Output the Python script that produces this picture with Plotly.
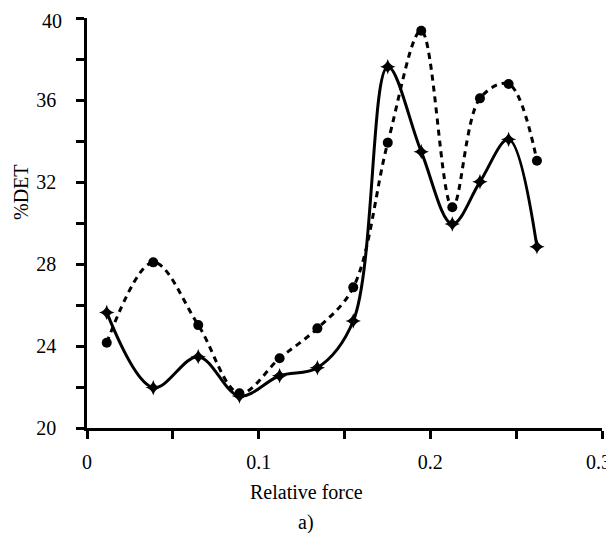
import plotly.graph_objects as go

relative_force = [0.0115, 0.0386, 0.0648, 0.0888, 0.1122, 0.1342, 0.1551, 0.1752, 0.1947, 0.2128, 0.2289, 0.2456, 0.2621]
det_solid = [25.64, 21.97, 23.48, 21.56, 22.55, 22.94, 25.22, 37.62, 33.48, 29.95, 32.01, 34.08, 28.84]
det_dotted = [24.16, 28.08, 25.02, 21.69, 23.40, 24.86, 26.86, 33.92, 39.38, 30.77, 36.08, 36.78, 33.04]

y_ticks = [20, 22, 24, 26, 28, 30, 32, 34, 36, 38, 40]
y_labels = ["20", "", "24", "", "28", "", "32", "", "36", "", ""]
x_ticks = [0, 0.05, 0.1, 0.15, 0.2, 0.25, 0.3]
x_labels = ["0", "", "0.1", "", "0.2", "", ""]
x_title = "Relative force"
y_title = "%DET"
panel_label = "a)"
last_x_label = "0.3"
top_y_label = "40"

font_family = "Liberation Serif"

# page has an 8px body margin; figure is sized so that it ends at the window edge
W, H = 606, 525
L, R, T, B = 79, 12, 10, 105
pw, ph = W - L - R, H - T - B


def px_to_paper(x, y):
    return (x - L) / pw, 1 - (y - T) / ph


fig = go.Figure()
fig.add_trace(go.Scatter(
    x=relative_force, y=det_dotted, mode="lines+markers",
    line=dict(color="black", width=3, dash="6px,5px", shape="spline", smoothing=1.0),
    marker=dict(symbol="circle", size=10, color="black"),
    cliponaxis=False, showlegend=False))
fig.add_trace(go.Scatter(
    x=relative_force, y=det_solid, mode="lines+markers",
    line=dict(color="black", width=3, shape="spline", smoothing=1.0),
    marker=dict(symbol="star-diamond", size=11, color="black"),
    cliponaxis=False, showlegend=False))

anns = []
for text, (x, y), angle, xanchor in [
    (x_title, (298, 484), 0, "center"),
    (panel_label, (298, 514), 0, "center"),
    (y_title, (13, 184), -90, "center"),
    (last_x_label, (605, 454), 0, "right"),
    (top_y_label, (56, 13), 0, "right"),
]:
    px, py = px_to_paper(x, y)
    anns.append(dict(text=text, x=px, y=py, xref="paper", yref="paper",
                     xanchor=xanchor, yanchor="middle", showarrow=False,
                     textangle=angle, font=dict(size=20, color="black", family=font_family)))

fig.update_layout(
    width=W, height=H,
    margin=dict(l=L, r=R, t=T, b=B, autoexpand=False),
    plot_bgcolor="white", paper_bgcolor="white",
    font=dict(family=font_family, size=20, color="black"),
    xaxis=dict(range=[0, 0.3], tickvals=x_ticks, ticktext=x_labels,
               showline=True, linecolor="black", linewidth=2.5,
               ticks="outside", ticklen=8, tickwidth=2.5, tickcolor="black",
               showgrid=False, zeroline=False, ticklabelstandoff=6),
    yaxis=dict(range=[20, 40], tickvals=y_ticks, ticktext=y_labels,
               showline=True, linecolor="black", linewidth=2.5,
               ticks="outside", ticklen=8, tickwidth=2.5, tickcolor="black",
               showgrid=False, zeroline=False, ticklabelstandoff=16),
    annotations=anns,
)

fig.write_html("out.html")
